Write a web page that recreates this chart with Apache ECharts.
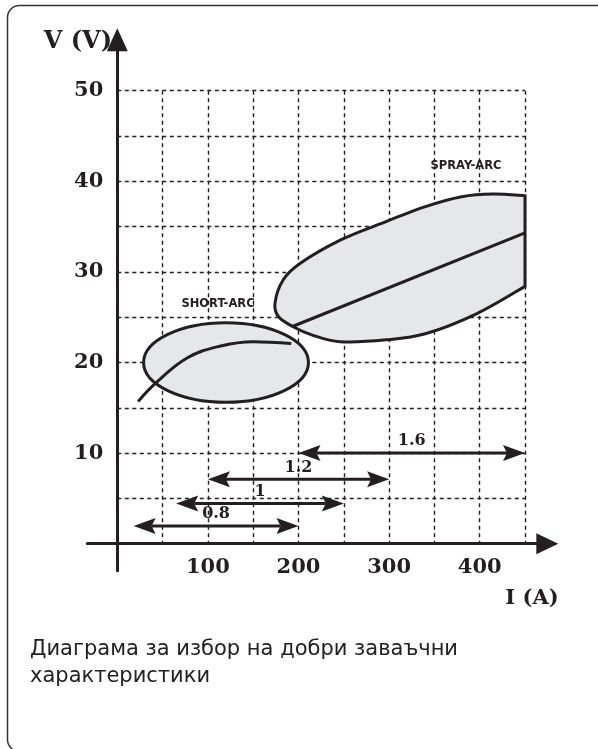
<!DOCTYPE html>
<html><head><meta charset="utf-8">
<script src="https://cdn.jsdelivr.net/npm/echarts@6/dist/echarts.min.js"></script>
<style>html,body{margin:0;padding:0;background:#fff}#c{width:598px;height:749px}</style>
</head><body><div id="c"></div>
<script>
// ---- data ----
const xTickValues = [100, 200, 300, 400];
const yTickValues = [10, 20, 30, 40, 50];
const gridIMax = 450, gridIStep = 50;
const gridVMax = 50, gridVStep = 5;

// SHORT-ARC zone (ellipse): centre I, centre V, half-width (A), half-height (V)
const shortZoneCentre = [120, 20];
const shortZoneHalf = [91, 4.4];
// SHORT-ARC characteristic curve
const shortCurveI = [23, 42, 77, 113, 150, 192];
const shortCurveV = [15.7, 17.7, 20.5, 21.8, 22.3, 22.1];

// SPRAY-ARC zone outline (lower edge right->left, around the tip, upper edge left->right)
const sprayZoneI = [450, 397, 341, 297, 246, 216, 194, 178, 174, 183, 202, 246, 290, 340, 380, 415, 450];
const sprayZoneV = [28.4, 25.4, 23.2, 22.5, 22.3, 23.0, 23.95, 25.05, 26.5, 29.1, 30.95, 33.5, 35.3, 37.2, 38.3, 38.6, 38.4];
// SPRAY-ARC characteristic line
const sprayLineI = [194, 450];
const sprayLineV = [24.0, 34.3];

// wire diameter ranges (mm)
const wireLabels = ['0.8', '1', '1.2', '1.6'];
const wireFromI = [18, 65, 100, 200];
const wireToI = [200, 250, 300, 450];
const wireV = [1.95, 4.45, 7.1, 10];

const INK = '#231f20';
const FILL = '#e6e7e8';
const NUMFONT = '"DejaVu Serif", "Liberation Serif", serif';

function smoothPath(pts, close) {
  let d = 'M' + pts[0][0] + ',' + pts[0][1];
  for (let i = 0; i < pts.length - 1; i++) {
    const p0 = pts[Math.max(i - 1, 0)], p1 = pts[i], p2 = pts[i + 1], p3 = pts[Math.min(i + 2, pts.length - 1)];
    const c1 = [p1[0] + (p2[0] - p0[0]) / 6, p1[1] + (p2[1] - p0[1]) / 6];
    const c2 = [p2[0] - (p3[0] - p1[0]) / 6, p2[1] - (p3[1] - p1[1]) / 6];
    d += ' C' + c1[0] + ',' + c1[1] + ' ' + c2[0] + ',' + c2[1] + ' ' + p2[0] + ',' + p2[1];
  }
  if (close) d += ' Z';
  return d;
}

const chart = echarts.init(document.getElementById('c'), null, {renderer: 'canvas'});

const option = {
  animation: false,
  backgroundColor: '#fff',
  title: {
    text: 'Диаграма за избор на добри заваъчни\nхарактеристики',
    left: 25, top: 631,
    textStyle: {fontFamily: '"DejaVu Sans", sans-serif', fontSize: 21, fontWeight: 'normal', color: '#222', lineHeight: 27}
  },
  graphic: [
    {type: 'rect', shape: {x: 7.5, y: 5.5, width: 620, height: 746, r: 12}, style: {fill: 'none', stroke: '#333', lineWidth: 1.5}, z: -1},
    {type: 'text', x: 112, y: 42, style: {text: 'V (V)', font: 'bold 24px ' + NUMFONT, fill: INK, align: 'right', verticalAlign: 'middle', textAlign: 'right', textVerticalAlign: 'middle'}},
    {type: 'text', x: 532, y: 599, style: {text: 'I (A)', font: 'bold 21px ' + NUMFONT, fill: INK, align: 'center', verticalAlign: 'middle', textAlign: 'center', textVerticalAlign: 'middle'}},
    {type: 'text', x: 218, y: 304, style: {text: 'SHORT-ARC', font: 'bold 11.5px "DejaVu Sans", sans-serif', fill: INK, align: 'center', verticalAlign: 'middle', textAlign: 'center', textVerticalAlign: 'middle'}},
    {type: 'text', x: 466, y: 166, style: {text: 'SPRAY-ARC', font: 'bold 11.5px "DejaVu Sans", sans-serif', fill: INK, align: 'center', verticalAlign: 'middle', textAlign: 'center', textVerticalAlign: 'middle'}}
  ],
  grid: [
    {left: 87.3, right: 50.7, top: 39.8, bottom: 178.3, containLabel: false},
    {left: 117.3, right: 73, top: 90.7, bottom: 205.3, containLabel: false}
  ],
  xAxis: [
    {type: 'value', gridIndex: 0, min: -33.1, max: 474.6,
     axisLine: {show: true, onZero: true, lineStyle: {color: INK, width: 3}, symbol: ['none', 'triangle'], symbolSize: [21, 22]},
     axisTick: {show: false}, axisLabel: {show: false}, splitLine: {show: false}},
    {type: 'value', gridIndex: 1, min: 0, max: gridIMax, interval: gridIStep,
     axisLine: {show: false}, axisTick: {show: false},
     axisLabel: {show: true, margin: 13, color: INK, fontFamily: NUMFONT, fontWeight: 'bold', fontSize: 21,
       formatter: v => xTickValues.indexOf(v) >= 0 ? String(v) : ''},
     splitLine: {show: true, lineStyle: {color: INK, width: 1.4, type: [4, 3.5]}}}
  ],
  yAxis: [
    {type: 'value', gridIndex: 0, min: -2.98, max: 55.62,
     axisLine: {show: true, onZero: true, lineStyle: {color: INK, width: 3}, symbol: ['none', 'triangle'], symbolSize: [21, 23]},
     axisTick: {show: false}, axisLabel: {show: false}, splitLine: {show: false}},
    {type: 'value', gridIndex: 1, min: 0, max: gridVMax, interval: gridVStep,
     axisLine: {show: false}, axisTick: {show: false},
     axisLabel: {show: true, margin: 14, color: INK, fontFamily: NUMFONT, fontWeight: 'bold', fontSize: 21,
       formatter: v => yTickValues.indexOf(v) >= 0 ? String(v) : ''},
     splitLine: {show: true, lineStyle: {color: INK, width: 1.4, type: [4, 3.5]}}}
  ],
  series: [
    {
      type: 'custom', name: 'SHORT-ARC zone', xAxisIndex: 1, yAxisIndex: 1, z: 2, clip: false,
      data: [[shortZoneCentre[0], shortZoneCentre[1]]],
      renderItem: function (params, api) {
        const c = api.coord([api.value(0), api.value(1)]);
        const rx = api.size([shortZoneHalf[0], 0])[0];
        const ry = api.size([0, shortZoneHalf[1]])[1];
        const d = 'M' + (c[0] - rx) + ',' + c[1] +
          ' A' + rx + ',' + ry + ' 0 1 0 ' + (c[0] + rx) + ',' + c[1] +
          ' A' + rx + ',' + ry + ' 0 1 0 ' + (c[0] - rx) + ',' + c[1] + ' Z';
        return {type: 'path', shape: {pathData: d}, style: {fill: FILL, stroke: INK, lineWidth: 3}};
      }
    },
    {
      type: 'custom', name: 'SPRAY-ARC zone', xAxisIndex: 1, yAxisIndex: 1, z: 2, clip: false,
      data: [[sprayZoneI[0], sprayZoneV[0]]],
      renderItem: function (params, api) {
        const pts = sprayZoneI.map((x, i) => api.coord([x, sprayZoneV[i]]));
        return {type: 'path', shape: {pathData: smoothPath(pts, true)}, style: {fill: FILL, stroke: INK, lineWidth: 3, lineJoin: 'miter'}};
      }
    },
    {
      type: 'line', name: 'SHORT-ARC', xAxisIndex: 1, yAxisIndex: 1, z: 3, clip: false,
      data: shortCurveI.map((x, i) => [x, shortCurveV[i]]),
      smooth: 0.4, showSymbol: false, symbol: 'none',
      lineStyle: {color: INK, width: 3}
    },
    {
      type: 'line', name: 'SPRAY-ARC', xAxisIndex: 1, yAxisIndex: 1, z: 3, clip: false,
      data: sprayLineI.map((x, i) => [x, sprayLineV[i]]),
      showSymbol: false, symbol: 'none',
      lineStyle: {color: INK, width: 3}
    },
    {
      type: 'custom', name: 'wire', xAxisIndex: 1, yAxisIndex: 1, z: 4, clip: false,
      data: wireLabels.map((l, i) => [wireFromI[i], wireToI[i], wireV[i]]),
      encode: {x: [0, 1], y: 2},
      renderItem: function (params, api) {
        const a = api.coord([api.value(0), api.value(2)]);
        const b = api.coord([api.value(1), api.value(2)]);
        const y = a[1], L = 22, W = 16, N = 4;
        const left = [[a[0], y], [a[0] + L, y - W / 2], [a[0] + L - N, y], [a[0] + L, y + W / 2]];
        const right = [[b[0], y], [b[0] - L, y - W / 2], [b[0] - L + N, y], [b[0] - L, y + W / 2]];
        return {type: 'group', children: [
          {type: 'line', shape: {x1: a[0] + L - N, y1: y, x2: b[0] - L + N, y2: y}, style: {stroke: INK, lineWidth: 3}},
          {type: 'polygon', shape: {points: left}, style: {fill: INK}},
          {type: 'polygon', shape: {points: right}, style: {fill: INK}},
          {type: 'text', x: (a[0] + b[0]) / 2, y: y - 4,
           style: {text: wireLabels[params.dataIndex], font: 'bold 16px ' + NUMFONT, fill: INK,
                   align: 'center', verticalAlign: 'bottom', textAlign: 'center', textVerticalAlign: 'bottom'}}
        ]};
      }
    }
  ]
};
chart.setOption(option);
</script>
</body></html>
